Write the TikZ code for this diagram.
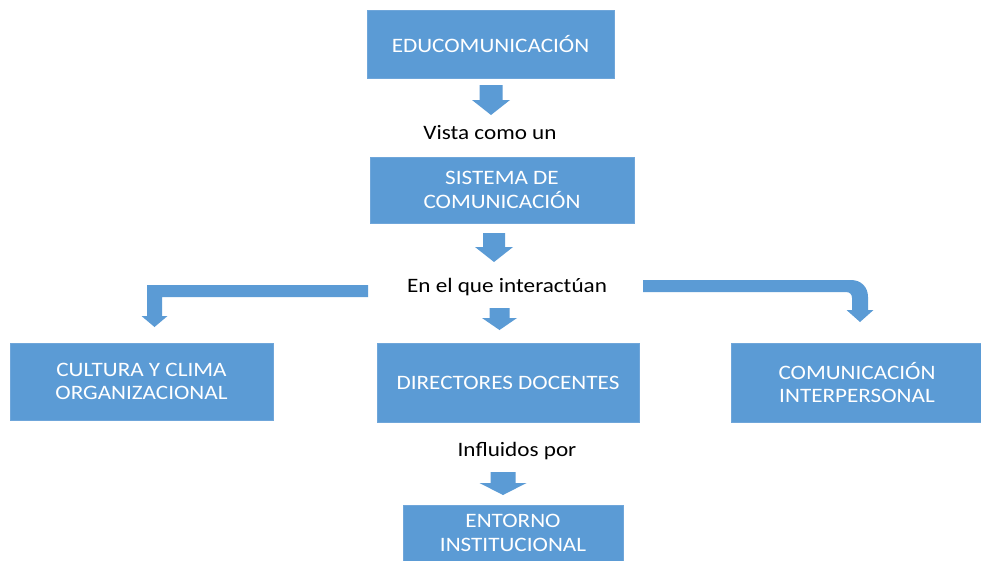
\documentclass[tikz,border=0pt]{standalone}
\usepackage{fontspec}
\setmainfont{Carlito}[FakeStretch=1.13]
\definecolor{boxblue}{HTML}{5B9BD5}
\definecolor{boxedge}{HTML}{6FA6DA}
\newcommand{\blkarrow}[6]{% cx, top, shaft half, head half, head start, tip
  \fill[boxblue] (#1-#3,#2) -- (#1+#3,#2) -- (#1+#3,#5) -- (#1+#4,#5) -- (#1,#6) -- (#1-#4,#5) -- (#1-#3,#5) -- cycle;}
\tikzset{
  bluebox/.style={rectangle, fill=boxblue, draw=boxedge, line width=0.6pt, text=white, align=center,
    font=\fontsize{20.5}{23.5}\selectfont, inner sep=0pt},
  lbl/.style={text=black, font=\fontsize{20.5}{23}\selectfont, inner sep=0pt}
}
\begin{document}
\begin{tikzpicture}[x=1pt,y=-1pt]
\useasboundingbox (0,0) rectangle (981,560);
\clip (0,0) rectangle (981,560);
\fill[white] (0,0) rectangle (981,560);
% boxes
\node[bluebox, minimum width=247pt, minimum height=68pt] (edu) at (490.5,44) {EDUCOMUNICACIÓN};
\node[lbl] (vista) at (490,133) {Vista como un};
\node[bluebox, minimum width=264pt, minimum height=66pt] (sis) at (502,190) {SISTEMA DE\\COMUNICACIÓN};
\node[lbl] (enel) at (507,287) {En el que interactúan};
\node[bluebox, minimum width=263pt, minimum height=77pt] (cult) at (141.5,381.5) {CULTURA Y CLIMA\\ORGANIZACIONAL};
\node[bluebox, minimum width=262pt, minimum height=79pt] (dir) at (508,382.5) {DIRECTORES DOCENTES};
\node[bluebox, minimum width=252pt, minimum height=79pt] (com) at (857,382.5) {COMUNICACIÓN\\INTERPERSONAL};
\node[lbl] (infl) at (517,451) {Influidos por};
\node[bluebox, minimum width=220pt, minimum height=80pt] (ent) at (513,545) {};
\node[text=white, align=center, font=\fontsize{20.5}{23.5}\selectfont, inner sep=0pt] (entt) at (513,533) {ENTORNO\\INSTITUCIONAL};
% straight block arrows
\blkarrow{491}{85}{11.5}{19}{100}{115}
\blkarrow{494}{233}{11}{19}{247}{262}
\blkarrow{499.5}{308}{10}{17.5}{318}{330}
\blkarrow{503}{472}{12.5}{23.5}{483}{495}
% left bent arrow
\fill[boxblue] (368,285) -- (147,285) -- (147,316) -- (141.5,316) -- (154.5,327) -- (167.5,316) -- (162,316) -- (162,297) -- (368,297) -- cycle;
% right bent arrow (rounded corner)
\fill[boxblue] (643,280) -- (851,280) .. controls (861,280) and (868,287) .. (868,297) -- (868,310) -- (873.5,310) -- (860,322) -- (846.5,310) -- (852,310) -- (852,298) .. controls (852,294.5) and (850,292) .. (846,292) -- (643,292) -- cycle;
\end{tikzpicture}
\end{document}
